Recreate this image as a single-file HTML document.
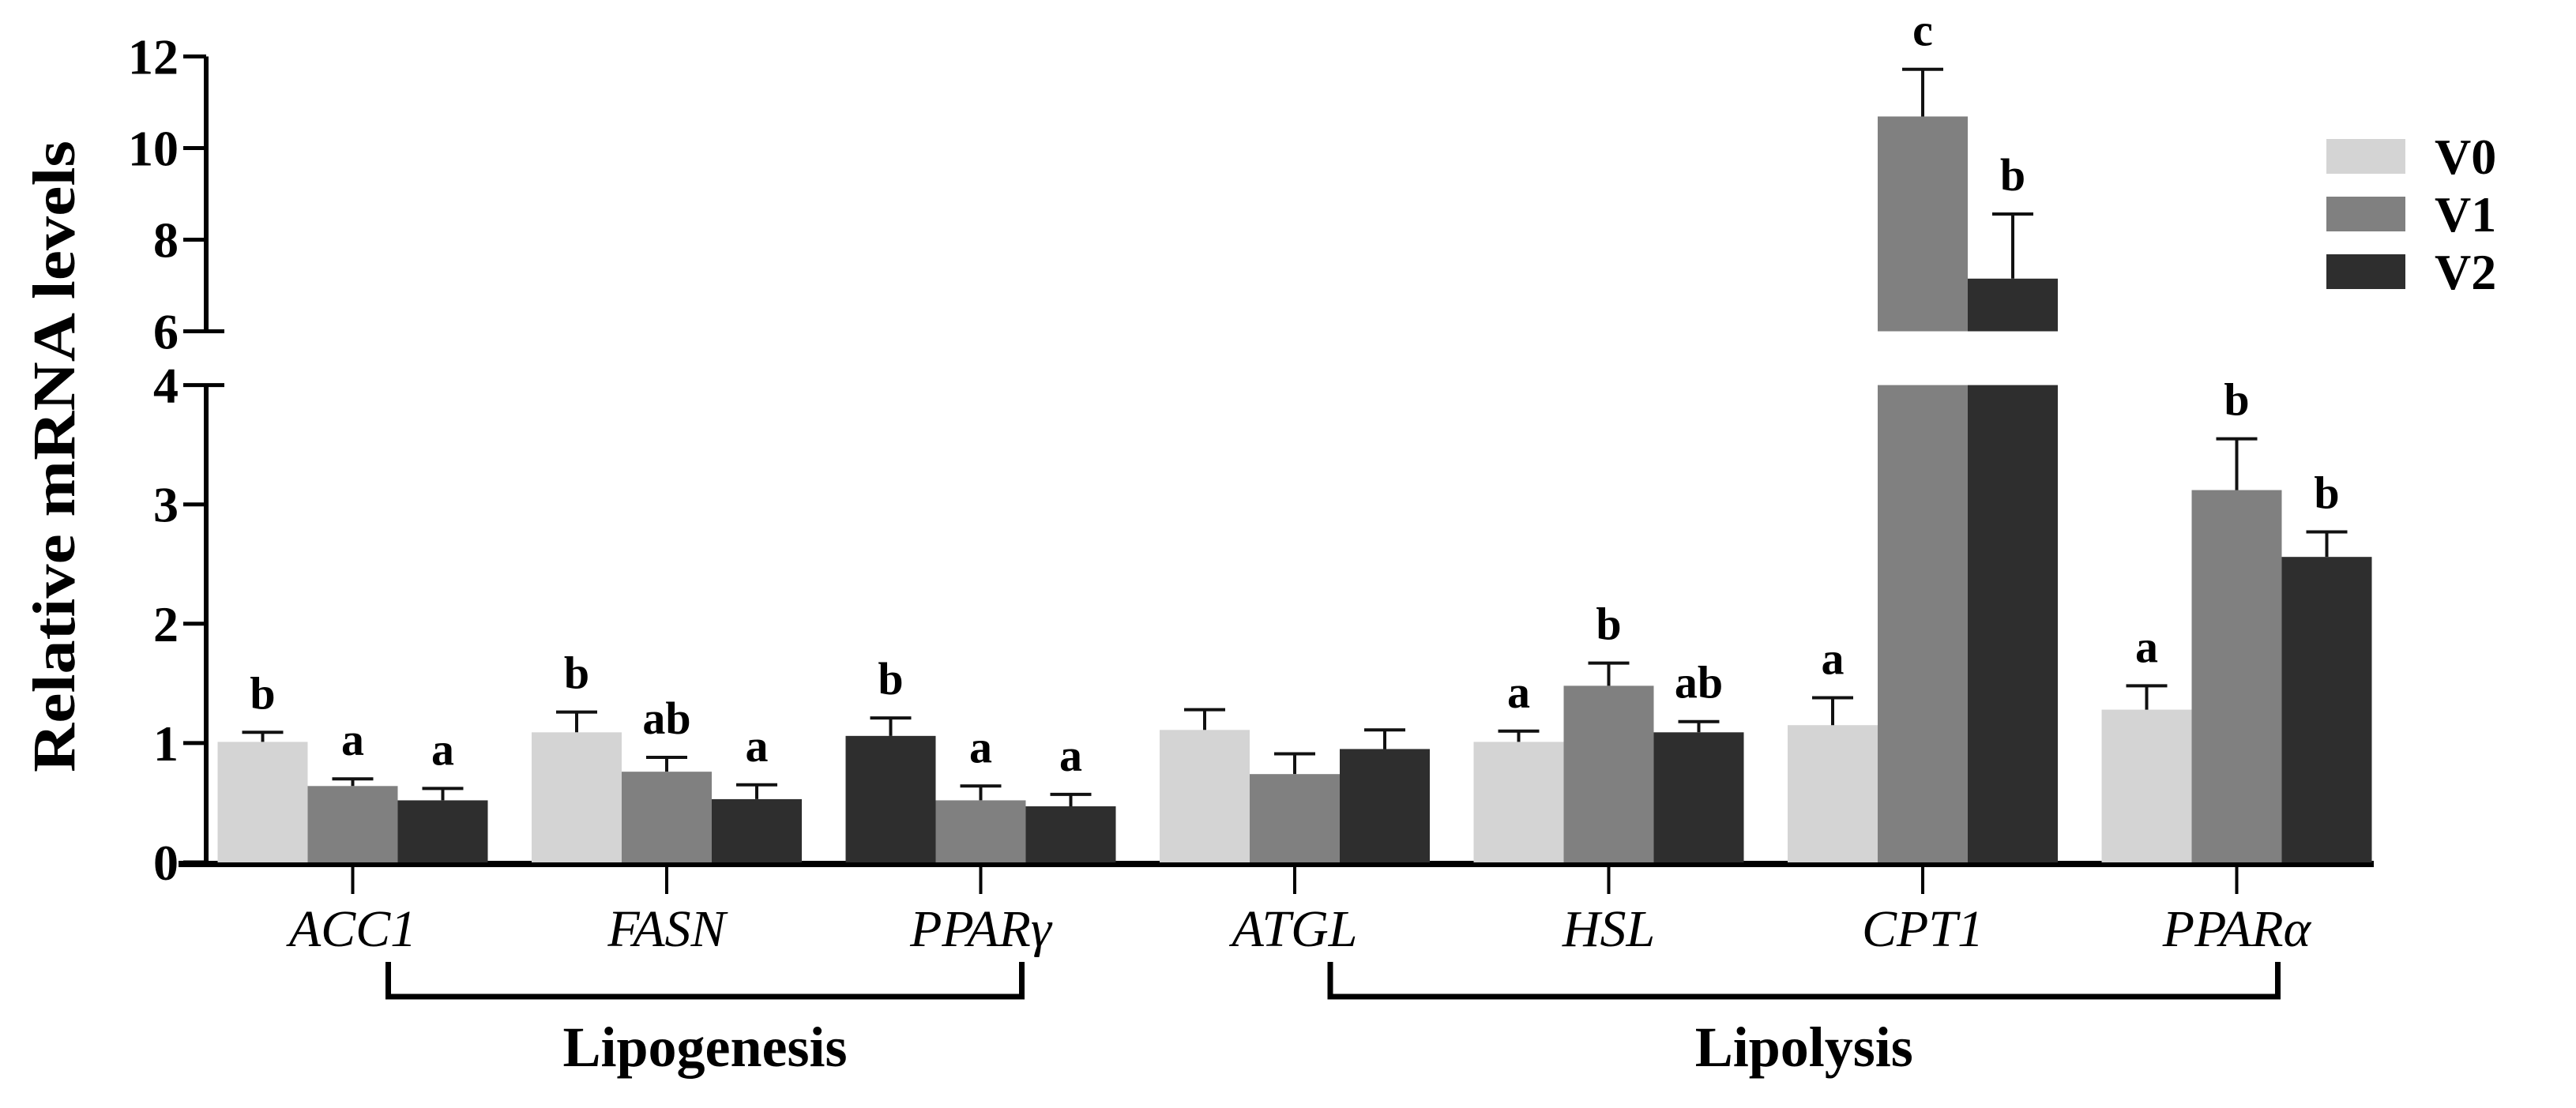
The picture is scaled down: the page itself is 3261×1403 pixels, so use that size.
<!DOCTYPE html>
<html><head><meta charset="utf-8"><style>
html,body{margin:0;padding:0;background:#fff;}
svg{display:block;font-family:"Liberation Serif","Times New Roman",serif;}
</style></head><body>
<svg id="chart" width="3261" height="1403" viewBox="0 0 3261 1403" xmlns="http://www.w3.org/2000/svg">
<text transform="translate(94,578) rotate(-90)" text-anchor="middle" font-size="76" font-weight="bold" textLength="800" lengthAdjust="spacingAndGlyphs">Relative mRNA levels</text>
<g id="axes"></g>
<g id="bars"></g>
<g id="legend"></g>
</svg>
<script>
const categories = ["ACC1","FASN","PPARγ","ATGL","HSL","CPT1","PPARα"];
const seriesNames = ["V0","V1","V2"];
const v0 = [1.01, 1.09, 1.06, 1.11, 1.01, 1.15, 1.28];
const v1 = [0.64, 0.76, 0.52, 0.74, 1.48, 10.69, 3.12];
const v2 = [0.52, 0.53, 0.47, 0.95, 1.09, 7.15, 2.56];
const e0 = [1.09, 1.26, 1.21, 1.28, 1.10, 1.38, 1.48];
const e1 = [0.70, 0.88, 0.64, 0.91, 1.67, 11.72, 3.55];
const e2 = [0.62, 0.65, 0.57, 1.11, 1.18, 8.56, 2.77];
const letters0 = ["b","b","b","","a","a","a"];
const letters1 = ["a","ab","a","","b","c","b"];
const letters2 = ["a","a","a","","ab","b","b"];
const lowTicks = [0,1,2,3,4];
const highTicks = [6,8,10,12];
const groups = [{name:"Lipogenesis", from:0, to:2},{name:"Lipolysis", from:3, to:6}];

const NS="http://www.w3.org/2000/svg";
const colors=["#d4d4d4","#808080","#2e2e2e"];
const AX=261, Y0=1092, LOWPX=151.1, Y6=419.5, HIGHPX=58;
function yLow(v){return Y0 - v*LOWPX;}
function yHigh(v){return Y6 - (v-6)*HIGHPX;}
function yVal(v){return v<=4 ? yLow(v) : yHigh(v);}
const GX0=275.5, PITCH=397.5, BW=114;
function xBar(g,s){return GX0 + g*PITCH + s*BW;}
function xCenter(g){return GX0 + g*PITCH + 1.5*BW;}

function mk(tag,attrs,parent,text){const el=document.createElementNS(NS,tag);for(const k in attrs)el.setAttribute(k,attrs[k]);if(text!==undefined)el.textContent=text;parent.appendChild(el);return el;}

const axes=document.getElementById('axes');
let l;
l=mk('line',{x1:AX,y1:yHigh(12),x2:AX,y2:Y6,stroke:'#000','stroke-width':6},axes);


l=mk('line',{x1:AX,y1:yLow(4),x2:AX,y2:Y0+4,stroke:'#000','stroke-width':6},axes);


l=mk('line',{x1:226,y1:Y0+2,x2:3005,y2:Y0+2,stroke:'#000','stroke-width':8},axes);


function tick(v,y,brk){
  const t=mk('line',{x1:232,y1:y,x2:brk?284:AX,y2:y,stroke:'#000','stroke-width':5},axes);
  
  
  const tx=mk('text',{x:226,y:y+22,'text-anchor':'end','font-size':64,'font-weight':'bold'},axes,String(v));
  
  
}
lowTicks.forEach(v=>tick(v,yLow(v),v===4));
highTicks.forEach(v=>tick(v,yHigh(v),v===6));

categories.forEach((c,g)=>{
  const cx=xCenter(g);
  const t=mk('line',{x1:cx,y1:Y0+4,x2:cx,y2:1132,stroke:'#000','stroke-width':4},axes);
  
  
  const tx=mk('text',{x:cx,y:1198,'text-anchor':'middle','font-size':66,'font-style':'italic'},axes,c);
  
  
});
groups.forEach(gr=>{
  const x1=xCenter(gr.from)+45, x2=xCenter(gr.to)+52;
  const p=mk('path',{d:`M${x1},1218 V1262 H${x2} V1218`,fill:'none',stroke:'#000','stroke-width':7},axes);
  
  
  const tx=mk('text',{x:(x1+x2)/2,y:1350,'text-anchor':'middle','font-size':72,'font-weight':'bold'},axes,gr.name);
  
  
});

const bars=document.getElementById('bars');
const vals=[v0,v1,v2], errs=[e0,e1,e2], lets=[letters0,letters1,letters2];
categories.forEach((c,g)=>{
  for(let s=0;s<3;s++){
    const v=vals[s][g], e=errs[s][g];
    const x=xBar(g,s);
    let col=colors[s];
    if(g===2&&s===0) col=colors[2];
    if(v<=4){
      const r=mk('rect',{x:x,y:yLow(v),width:BW,height:Y0-yLow(v),fill:col},bars);
      
      
    } else {
      const r1=mk('rect',{x:x,y:yLow(4),width:BW,height:Y0-yLow(4),fill:col},bars);
      
      
      const r2=mk('rect',{x:x,y:yHigh(v),width:BW,height:Y6-yHigh(v),fill:col},bars);
      
      
    }
    const cx=x+BW/2, yt=yVal(v), ye=yVal(e);
    const eb=mk('path',{d:`M${cx},${yt} V${ye} M${cx-26},${ye} H${cx+26}`,fill:'none',stroke:'#111','stroke-width':4},bars);
    
    
    const L=lets[s][g];
    if(L){
      const tx=mk('text',{x:cx,y:ye-30,'text-anchor':'middle','font-size':58,'font-weight':'bold'},bars,L);
      
      
    }
  }
});

const legend=document.getElementById('legend');
seriesNames.forEach((n,i)=>{
  const y=176+i*73;
  const r=mk('rect',{x:2945,y:y,width:100,height:44,fill:colors[i]},legend);
  
  
  const tx=mk('text',{x:3082,y:y+44,'font-size':64,'font-weight':'bold'},legend,n);
  
  
});
</script>
</body></html>
